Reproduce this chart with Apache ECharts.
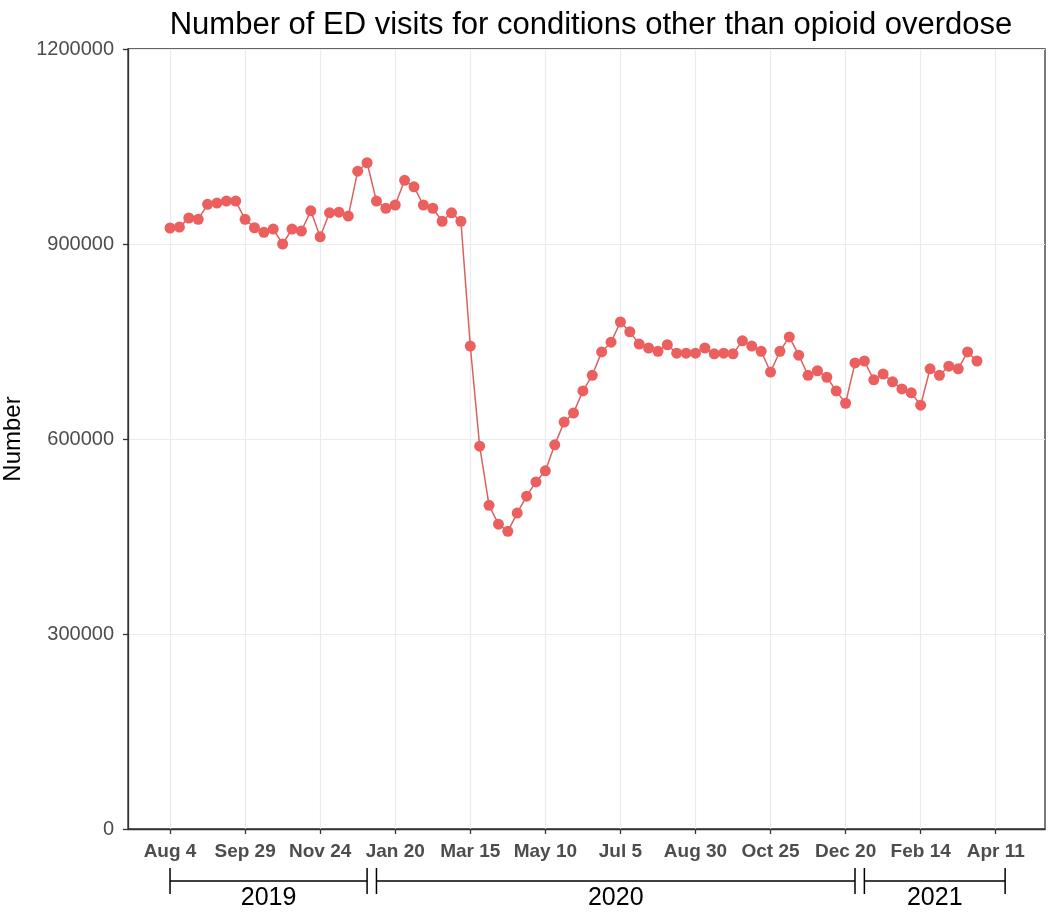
<!DOCTYPE html>
<html>
<head>
<meta charset="utf-8">
<script src="https://cdn.jsdelivr.net/npm/echarts@6/dist/echarts.min.js"></script>
<style>html,body{margin:0;padding:0;background:#fff}#c{width:1050px;height:912px}</style>
</head>
<body>
<div id="c"></div>
<script>
const chartTitle = 'Number of ED visits for conditions other than opioid overdose';
const yName = 'Number';
// weekly values starting Aug 4, 2019 (week index 0)
const visits = [
  924600, 926000, 940000, 938000, 961000, 963000, 966000, 966000, 938000, 925000,
  918000, 923000, 900000, 923000, 920000, 951000, 911000, 948000, 949000, 943000,
  1012000, 1025000, 966000, 955000, 960000, 998000, 988000, 960000, 955000, 935000,
  948000, 935000, 743000, 589000, 498000, 469000, 458000, 486000, 512000, 534000,
  551000, 591000, 626000, 640000, 674000, 698000, 734000, 749000, 780000, 765000,
  746000, 740000, 735000, 745000, 732000, 732000, 732000, 740000, 731000, 732000,
  731000, 751000, 743000, 735000, 703000, 735000, 757000, 729000, 698000, 705000,
  695000, 674000, 655000, 717000, 720000, 691000, 700000, 688000, 677000, 671000,
  652000, 708000, 698000, 712000, 708000, 734000, 720000
];
// tick positions in weeks since Aug 4, 2019, and their labels
const tickWeeks = [0, 8, 16, 24, 32, 40, 48, 56, 64, 72, 80, 88];
const tickLabels = ['Aug 4', 'Sep 29', 'Nov 24', 'Jan 20', 'Mar 15', 'May 10', 'Jul 5', 'Aug 30', 'Oct 25', 'Dec 20', 'Feb 14', 'Apr 11'];
// year brackets: [start week, end week, label]
const yearStart = [0, 22, 74];
const yearEnd = [21, 73, 89];
const yearLabels = ['2019', '2020', '2021'];

const points = visits.map((v, i) => [i, v]);
const brackets = yearLabels.map((l, i) => [yearStart[i], yearEnd[i], l]);
const labelMap = {};
tickWeeks.forEach((w, i) => labelMap[w] = tickLabels[i]);

const chart = echarts.init(document.getElementById('c'));
const FONT = '"Liberation Sans", Arial, sans-serif';
chart.setOption({
  animation: false,
  backgroundColor: '#ffffff',
  title: {
    text: chartTitle, left: 586, textAlign: 'center', top: 5,
    textStyle: { fontFamily: FONT, fontSize: 31, fontWeight: 'normal', color: '#000' }
  },
  grid: { left: 128, right: 5, top: 49, bottom: 83, outerBoundsMode: 'none', containLabel: false,
          show: true, borderColor: '#333', borderWidth: 1.3, backgroundColor: 'transparent' },
  xAxis: {
    type: 'value', min: -4.48, max: 93.25,
    axisLine: { show: true, onZero: false, lineStyle: { color: '#333', width: 1.3 } },
    axisTick: { show: true, customValues: tickWeeks, length: 5, lineStyle: { color: '#333', width: 1.3 } },
    axisLabel: {
      customValues: tickWeeks, formatter: v => labelMap[v] || '', margin: 13,
      fontFamily: FONT, fontSize: 19, fontWeight: 'bold', color: '#4D4D4D'
    },
    splitLine: { show: true, lineStyle: { color: '#EBEBEB', width: 1.2 } }
  },
  yAxis: {
    type: 'value', min: 0, max: 1200000, interval: 300000,
    name: yName, nameLocation: 'middle', nameGap: 100, nameRotate: 90,
    nameTextStyle: { fontFamily: FONT, fontSize: 24, color: '#000' },
    axisLine: { show: true, onZero: false, lineStyle: { color: '#333', width: 1.3 } },
    axisTick: { show: true, length: 5, lineStyle: { color: '#333', width: 1.3 } },
    axisLabel: { margin: 14, formatter: v => String(v), fontFamily: FONT, fontSize: 20, color: '#4D4D4D' },
    splitLine: { show: true, lineStyle: { color: '#EBEBEB', width: 1.2 } }
  },
  series: [
    {
      type: 'line', data: points, symbol: 'circle', symbolSize: 11,
      itemStyle: { color: '#EC5F5F' },
      lineStyle: { color: '#D9625F', width: 1.5 },
      z: 3
    },
    {
      type: 'custom', data: brackets, clip: false, silent: true,
      renderItem: function (params, api) {
        const s = api.coord([api.value(0), 0]);
        const e = api.coord([api.value(1), 0]);
        const y = s[1] + 52;
        const h = 13;
        const st = { stroke: '#000', lineWidth: 1.5 };
        return {
          type: 'group',
          children: [
            { type: 'line', shape: { x1: s[0], y1: y, x2: e[0], y2: y }, style: st },
            { type: 'line', shape: { x1: s[0], y1: y - h, x2: s[0], y2: y + h }, style: st },
            { type: 'line', shape: { x1: e[0], y1: y - h, x2: e[0], y2: y + h }, style: st },
            { type: 'text', x: (s[0] + e[0]) / 2, y: y + 17,
              style: { text: api.value(2), fill: '#000', font: '25px "Liberation Sans", Arial, sans-serif', align: 'center', verticalAlign: 'middle' } }
          ]
        };
      }
    }
  ]
});
</script>
</body>
</html>
